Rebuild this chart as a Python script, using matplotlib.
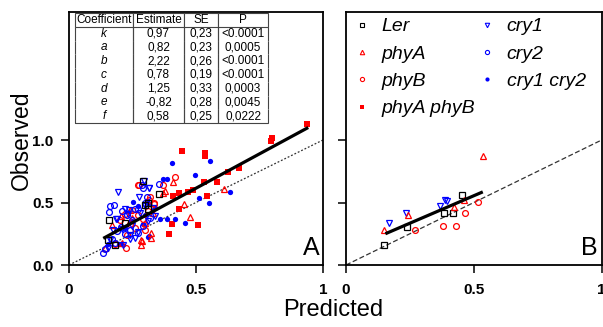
import matplotlib
matplotlib.use("Agg")
import matplotlib.pyplot as plt
from matplotlib.lines import Line2D
from matplotlib.font_manager import FontProperties

plt.rcParams['font.family'] = ['Liberation Sans', 'DejaVu Sans']

# ---- panel A data (predicted, observed) ----
ler_a_x = [0.292, 0.356, 0.159, 0.219, 0.312, 0.310, 0.152, 0.181, 0.300]
ler_a_y = [0.669, 0.571, 0.363, 0.336, 0.445, 0.493, 0.200, 0.160, 0.480]

phya_a_x = [0.410, 0.380, 0.454, 0.478, 0.609, 0.322, 0.323, 0.283, 0.283, 0.171,
            0.205, 0.371, 0.286, 0.140, 0.250, 0.330, 0.240, 0.210, 0.300]
phya_a_y = [0.664, 0.589, 0.491, 0.387, 0.605, 0.253, 0.213, 0.200, 0.160, 0.317,
            0.392, 0.573, 0.194, 0.140, 0.380, 0.420, 0.440, 0.180, 0.340]

phyb_a_x = [0.419, 0.372, 0.276, 0.319, 0.316, 0.335, 0.223, 0.270, 0.333, 0.250,
            0.220, 0.270, 0.290, 0.240, 0.300, 0.260, 0.200, 0.310, 0.180, 0.230]
phyb_a_y = [0.704, 0.637, 0.637, 0.544, 0.523, 0.491, 0.133, 0.642, 0.493, 0.440,
            0.410, 0.400, 0.370, 0.330, 0.280, 0.300, 0.360, 0.430, 0.170, 0.240]

phyab_a_x = [0.938, 0.799, 0.797, 0.446, 0.535, 0.534, 0.670, 0.625, 0.583, 0.531,
             0.489, 0.470, 0.432, 0.411, 0.542, 0.433, 0.404, 0.508, 0.394]
phyab_a_y = [1.128, 1.020, 0.995, 0.915, 0.893, 0.875, 0.779, 0.741, 0.664, 0.664,
             0.600, 0.581, 0.579, 0.552, 0.549, 0.445, 0.325, 0.317, 0.251]

cry1_a_x = [0.295, 0.316, 0.192, 0.274, 0.237, 0.188, 0.340, 0.174, 0.260, 0.155,
            0.211, 0.234, 0.315, 0.239, 0.270, 0.185, 0.300, 0.280, 0.330, 0.220,
            0.250, 0.310, 0.160, 0.210, 0.240]
cry1_a_y = [0.669, 0.619, 0.584, 0.544, 0.440, 0.371, 0.392, 0.277, 0.213, 0.133,
            0.160, 0.405, 0.618, 0.240, 0.267, 0.366, 0.470, 0.420, 0.460, 0.450,
            0.310, 0.350, 0.200, 0.290, 0.210]

cry2_a_x = [0.356, 0.293, 0.161, 0.178, 0.306, 0.272, 0.159, 0.133, 0.286, 0.205,
            0.142, 0.181, 0.230, 0.260, 0.240, 0.270, 0.290, 0.220, 0.190, 0.300,
            0.250, 0.320, 0.210, 0.170]
cry2_a_y = [0.645, 0.613, 0.475, 0.477, 0.541, 0.448, 0.424, 0.099, 0.640, 0.307,
            0.125, 0.173, 0.400, 0.450, 0.280, 0.260, 0.310, 0.250, 0.270, 0.500,
            0.360, 0.380, 0.430, 0.210]

cry12_a_x = [0.405, 0.555, 0.495, 0.371, 0.384, 0.513, 0.634, 0.551, 0.252, 0.306,
             0.311, 0.419, 0.384, 0.455, 0.360, 0.312, 0.196, 0.205, 0.315, 0.290,
             0.250, 0.220, 0.270, 0.340, 0.300, 0.152]
cry12_a_y = [0.819, 0.829, 0.717, 0.691, 0.691, 0.536, 0.581, 0.499, 0.501, 0.512,
             0.499, 0.371, 0.368, 0.336, 0.368, 0.227, 0.168, 0.168, 0.235, 0.330,
             0.350, 0.300, 0.470, 0.460, 0.400, 0.170]

fit_a_x = [0.135, 0.942]
fit_a_y = [0.213, 1.100]

# ---- panel B data ----
ler_b_x = [0.149, 0.237, 0.384, 0.420, 0.454]
ler_b_y = [0.161, 0.303, 0.420, 0.420, 0.561]
cry1_b_x = [0.167, 0.235, 0.368, 0.387, 0.394]
cry1_b_y = [0.338, 0.414, 0.476, 0.524, 0.510]
phya_b_x = [0.150, 0.244, 0.423, 0.463, 0.536]
phya_b_y = [0.279, 0.404, 0.468, 0.519, 0.873]
phyb_b_x = [0.270, 0.380, 0.429, 0.466, 0.517]
phyb_b_y = [0.284, 0.316, 0.316, 0.420, 0.508]

fit_b_x = [0.154, 0.535]
fit_b_y = [0.250, 0.585]

diag = [0, 1]

# ---- table ----
coef_names = ['k', 'a', 'b', 'c', 'd', 'e', 'f']
estimates = ['0,97', '0,82', '2,22', '0,78', '1,25', '-0,82', '0,58']
ses = ['0,23', '0,23', '0,26', '0,19', '0,33', '0,28', '0,25']
pvals = ['<0.0001', '0,0005', '<0.0001', '<0.0001', '0,0003', '0,0045', '0,0222']

legend_labels = ['Ler', 'phyA', 'phyB', 'phyA phyB', 'cry1', 'cry2', 'cry1 cry2']

RED = '#ff0000'
BLUE = '#0000ff'

fig = plt.figure(figsize=(6.03, 3.27), dpi=100)
axA = fig.add_axes([0.1144, 0.1896, 0.4212, 0.7737])
axB = fig.add_axes([0.5738, 0.1896, 0.4240, 0.7737])


def open_pts(ax, x, y, marker, color, ms):
    ax.plot(x, y, ls='none', marker=marker, mfc='none', mec=color, ms=ms, mew=0.9)


def filled_pts(ax, x, y, marker, color, ms):
    ax.plot(x, y, ls='none', marker=marker, mfc=color, mec=color, ms=ms, mew=0)


# panel A
axA.plot(diag, diag, ls=(0, (1.5, 1.5)), color='#333333', lw=0.9)
filled_pts(axA, phyab_a_x, phyab_a_y, 's', RED, 4.2)
filled_pts(axA, cry12_a_x, cry12_a_y, 'o', BLUE, 3.8)
open_pts(axA, phya_a_x, phya_a_y, '^', RED, 5)
open_pts(axA, phyb_a_x, phyb_a_y, 'o', RED, 4.2)
open_pts(axA, cry2_a_x, cry2_a_y, 'o', BLUE, 4.2)
open_pts(axA, cry1_a_x, cry1_a_y, 'v', BLUE, 5)
open_pts(axA, ler_a_x, ler_a_y, 's', 'black', 4.2)
axA.plot(fit_a_x, fit_a_y, color='black', lw=2.3, solid_capstyle='butt')

# panel B
axB.plot(diag, diag, ls=(0, (4, 2)), color='#333333', lw=0.9)
open_pts(axB, ler_b_x, ler_b_y, 's', 'black', 4.2)
open_pts(axB, cry1_b_x, cry1_b_y, 'v', BLUE, 5)
open_pts(axB, phya_b_x, phya_b_y, '^', RED, 5)
open_pts(axB, phyb_b_x, phyb_b_y, 'o', RED, 4.2)
axB.plot(fit_b_x, fit_b_y, color='black', lw=2.3, solid_capstyle='butt')

for ax in (axA, axB):
    ax.set_xlim(0, 1)
    ax.set_ylim(0, 2.024)
    ax.set_xticks([0, 0.5, 1])
    ax.set_yticks([0, 0.5, 1.0])
    for s in ax.spines.values():
        s.set_linewidth(1.3)
    ax.tick_params(direction='out', length=6, width=1.1, pad=5)
    ax.tick_params(axis='x', length=6, pad=7)

axA.set_xticklabels(['0', '0.5', '1'], fontweight='bold', fontsize=11)
axA.set_yticklabels(['0.0', '0.5', '1.0'], fontweight='bold', fontsize=11)
axB.set_xticklabels(['0', '0.5', '1'], fontweight='bold', fontsize=11)
axB.set_yticklabels([])

axA.text(0.985, 0.02, 'A', transform=axA.transAxes, ha='right', va='bottom', fontsize=18)
axB.text(0.985, 0.02, 'B', transform=axB.transAxes, ha='right', va='bottom', fontsize=18)

# coefficient table
rows = [['Coefficient', 'Estimate', 'SE', 'P']]
for i in range(len(coef_names)):
    rows.append([coef_names[i], estimates[i], ses[i], pvals[i]])
tab = axA.table(cellText=rows, cellLoc='center',
                colWidths=[58, 51, 34, 50],
                bbox=[0.0236, 0.561, 0.76, 0.435])
tab.auto_set_font_size(False)
tab.set_fontsize(8.5)
nrows = len(rows)
for (r, c), cell in tab.get_celld().items():
    cell.set_linewidth(0.8)
    cell.set_edgecolor('#444444')
    cell.PAD = 0.02
    if r == 0:
        cell.visible_edges = 'closed'
    elif r == nrows - 1:
        cell.visible_edges = 'LRB'
    else:
        cell.visible_edges = 'LR'
    if r > 0 and c == 0:
        cell.get_text().set_fontstyle('italic')

# legend
handles = [
    Line2D([], [], ls='none', marker='s', mfc='none', mec='black', ms=3, mew=0.8),
    Line2D([], [], ls='none', marker='^', mfc='none', mec=RED, ms=3.2, mew=0.8),
    Line2D([], [], ls='none', marker='o', mfc='none', mec=RED, ms=3, mew=0.8),
    Line2D([], [], ls='none', marker='s', mfc=RED, mec=RED, ms=3, mew=0),
    Line2D([], [], ls='none', marker='v', mfc='none', mec=BLUE, ms=3.2, mew=0.8),
    Line2D([], [], ls='none', marker='o', mfc='none', mec=BLUE, ms=3, mew=0.8),
    Line2D([], [], ls='none', marker='o', mfc=BLUE, mec=BLUE, ms=3, mew=0),
]
axB.legend(handles, legend_labels, ncol=2, loc='upper left',
           bbox_to_anchor=(0.0, 1.0), frameon=False,
           prop=FontProperties(family='Liberation Sans', style='italic', size=14),
           handlelength=1.0, handletextpad=0.5, columnspacing=0.15,
           labelspacing=0.5, borderaxespad=0.1, borderpad=0.2)

fig.text(0.552, 0.052, 'Predicted', ha='center', va='center', fontsize=17)
fig.text(0.036, 0.572, 'Observed', ha='center', va='center', rotation=90, fontsize=16.5)

fig.savefig('out.png', dpi=100)
